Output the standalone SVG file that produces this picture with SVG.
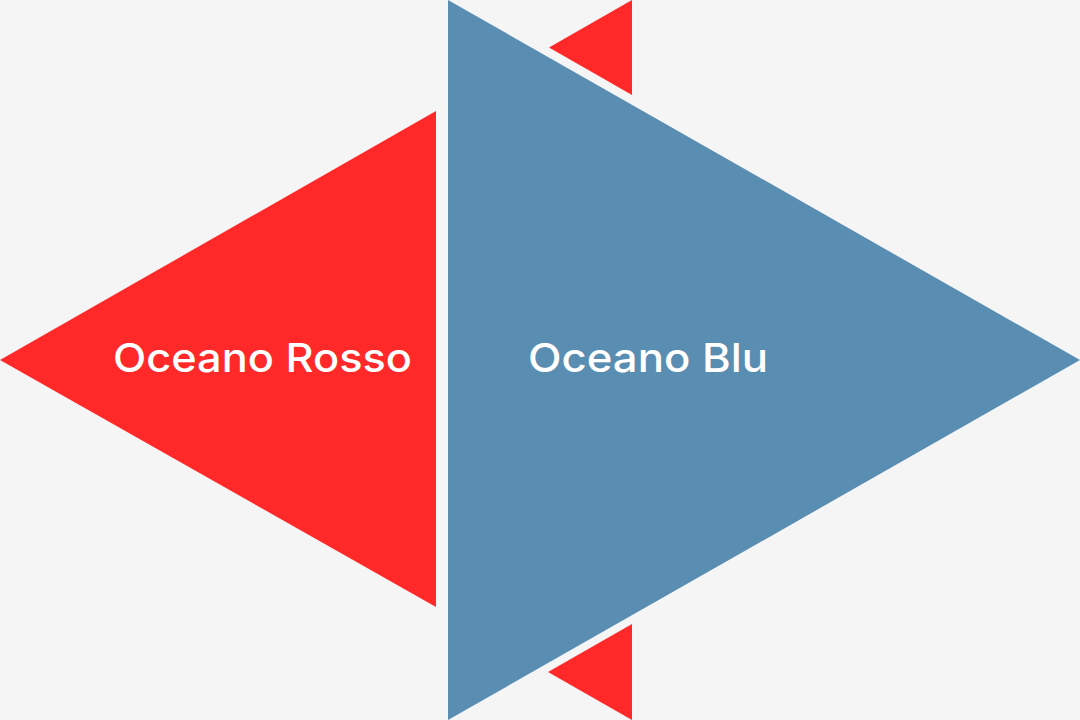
<svg xmlns="http://www.w3.org/2000/svg" width="1080" height="720" viewBox="0 0 1080 720">
<style>
.red{fill:#FF2929}
.blue{fill:#5A8DB2}
.lbl{font-family:Inter,"Open Sans","Liberation Sans",sans-serif;font-size:40px;font-weight:500;fill:#FFFFFF}
</style>
<rect width="1080" height="720" fill="#F5F5F5"/>
<g id="red-small-top"><polygon class="red" points="632,0 632,95 549,47.5"/></g>
<g id="red-small-bottom"><polygon class="red" points="632,624 632,720 548,672"/></g>
<g id="red-ocean">
<polygon class="red" points="0,360 436,111 436,607"/>
<text class="lbl" x="113" y="372" textLength="299" lengthAdjust="spacingAndGlyphs">Oceano Rosso</text>
</g>
<g id="blue-ocean">
<polygon class="blue" points="448,0 1080,360 448,720"/>
<text class="lbl" x="528" y="372" textLength="240" lengthAdjust="spacingAndGlyphs">Oceano Blu</text>
</g>
<g id="connectors"/>
</svg>
